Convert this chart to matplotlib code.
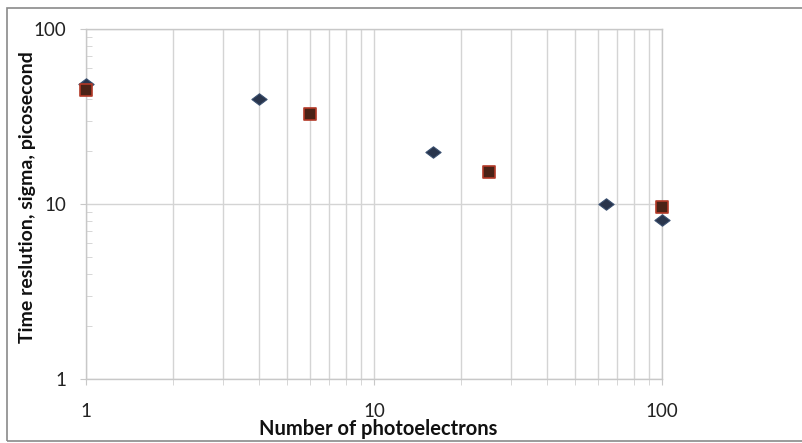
import matplotlib
matplotlib.use("Agg")
import matplotlib.pyplot as plt
from matplotlib.ticker import LogLocator, FixedLocator, NullFormatter
from matplotlib.patches import Rectangle
from matplotlib.path import Path

plt.rcParams['font.family'] = ['Lato', 'DejaVu Sans']

# Data
diamond_x = [1, 4, 16, 64, 100]
diamond_y = [48.5, 40, 19.7, 10, 8.1]
square_x = [1, 6, 25, 100]
square_y = [45, 32.5, 15.3, 9.6]

x_ticks = [1, 10, 100]
x_ticklabels = ["1", "10", "100"]
y_ticks = [1, 10, 100]
y_ticklabels = ["1", "10", "100"]

fig = plt.figure(figsize=(8.02, 4.43), dpi=100)
ax = fig.add_axes([86/802, 1-379/443, (662-86)/802, (379-29)/443])

ax.set_xscale('log')
ax.set_yscale('log')
ax.set_xlim(1, 100)
ax.set_ylim(1, 100)

grid_c = '#D4D4D4'
ax.xaxis.set_major_locator(FixedLocator(x_ticks))
ax.xaxis.set_minor_locator(LogLocator(base=10, subs=range(2, 10)))
ax.yaxis.set_major_locator(FixedLocator(y_ticks))
ax.yaxis.set_minor_locator(LogLocator(base=10, subs=range(2, 10)))
ax.xaxis.set_minor_formatter(NullFormatter())
ax.yaxis.set_minor_formatter(NullFormatter())
ax.set_xticklabels(x_ticklabels)
ax.set_yticklabels(y_ticklabels)

ax.grid(True, which='major', axis='both', color=grid_c, lw=1.0)
ax.grid(True, which='minor', axis='x', color=grid_c, lw=1.0)
ax.set_axisbelow(True)

for s in ax.spines.values():
    s.set_color('#C8C8C8')
    s.set_linewidth(1.0)

ax.tick_params(axis='both', which='major', length=4, color='#C8C8C8',
               labelsize=13.5, labelcolor='#222222')
ax.tick_params(axis='x', which='minor', length=4, color='#D0D0D0', direction='out')
ax.tick_params(axis='y', which='minor', length=4, color='#D0D0D0', direction='in')
ax.tick_params(axis='x', which='major', pad=13)
ax.tick_params(axis='y', which='major', pad=10)

diamond = Path([(-1, 0), (0, 0.75), (1, 0), (0, -0.75), (-1, 0)],
               [Path.MOVETO, Path.LINETO, Path.LINETO, Path.LINETO, Path.CLOSEPOLY])

ax.scatter(diamond_x, diamond_y, marker=diamond, s=120, c='#29354C',
           edgecolors='#3A5070', linewidths=0.8, zorder=3, clip_on=False)
ax.scatter(square_x, square_y, marker='s', s=80, c='#4A2216',
           edgecolors='#B33A28', linewidths=1.2, zorder=4, clip_on=False)

ax.set_xlabel("Number of photoelectrons", fontsize=14.5, fontweight='bold',
              color='#111111', va='center')
ax.xaxis.set_label_coords(0.507, -0.143)
ax.set_ylabel("Time reslution, sigma, picosecond", fontsize=14,
              fontweight='bold', color='#111111', va='center')
ax.yaxis.set_label_coords(-0.101, 0.52)

fig.patches.append(Rectangle((7/802, 1-441/443), 1.0, (441-8)/443,
                             transform=fig.transFigure, fill=False,
                             edgecolor='#8A8A8A', lw=1.2))

fig.savefig("out.png", dpi=100)
